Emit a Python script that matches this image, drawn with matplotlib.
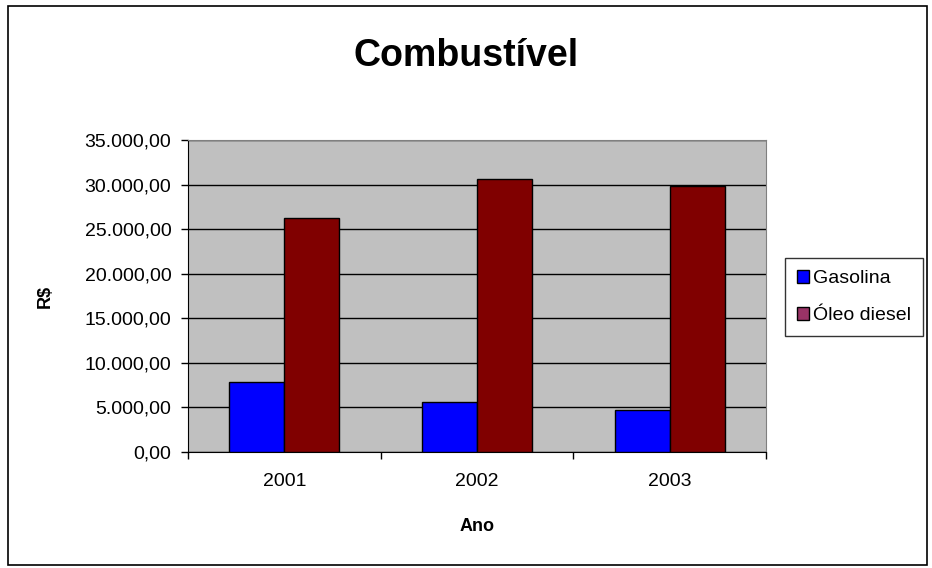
import matplotlib
matplotlib.use("Agg")
import matplotlib.pyplot as plt
import numpy as np
from matplotlib.patches import Patch, Rectangle
from matplotlib.ticker import FuncFormatter

plt.rcParams['font.family'] = ['Liberation Sans', 'DejaVu Sans']

# data
anos = ['2001', '2002', '2003']
gasolina = [7850, 5560, 4690]
oleo_diesel = [26250, 30680, 29850]
series_names = ['Gasolina', 'Óleo diesel']
y_ticks = [0, 5000, 10000, 15000, 20000, 25000, 30000, 35000]


def br_fmt(v, pos):
    s = f"{v:,.2f}"
    return s.replace(",", "X").replace(".", ",").replace("X", ".")


fig = plt.figure(figsize=(9.32, 5.68), dpi=100)
fig.patch.set_facecolor('white')

# outer chart border
fig.add_artist(Rectangle((8 / 932, 3 / 568), 919 / 932, 559 / 568,
                         transform=fig.transFigure, fill=False,
                         edgecolor='black', linewidth=1.2))

ax = fig.add_axes([188 / 932, 116 / 568, 578 / 932, 312 / 568])
ax.set_facecolor('#C0C0C0')

x = np.arange(len(anos))
w = 1 / 3.5
ax.bar(x - w / 2, gasolina, w, color='#0000FF', edgecolor='black', linewidth=1, zorder=3)
ax.bar(x + w / 2, oleo_diesel, w, color='#800000', edgecolor='black', linewidth=1, zorder=3)

ax.set_xlim(-0.5, len(anos) - 0.5)
ax.set_ylim(0, 35000)
ax.set_yticks(y_ticks)
ax.yaxis.set_major_formatter(FuncFormatter(br_fmt))
ax.yaxis.grid(True, color='black', linewidth=1, zorder=1)
ax.set_axisbelow(True)

ax.set_xticks(x)
ax.set_xticklabels(anos)
ax.set_xticks(np.arange(-0.5, len(anos)), minor=True)
ax.tick_params(axis='x', which='major', length=0, labelsize=14, pad=15)
ax.tick_params(axis='x', which='minor', length=5, width=1, direction='out')
ax.tick_params(axis='y', length=5, width=1, direction='out', labelsize=14, pad=7)

for side in ['top', 'right']:
    ax.spines[side].set_color('#808080')
for side in ['left', 'bottom']:
    ax.spines[side].set_color('black')

ax.set_xlabel('Ano', fontsize=13, fontweight='bold', labelpad=20)
ax.set_ylabel('R$', fontsize=13, fontweight='bold', labelpad=22)

fig.text(466 / 932, 1 - 56 / 568, 'Combustível', fontsize=27, fontweight='bold',
         ha='center', va='center')

handles = [Patch(facecolor='#0000FF', edgecolor='black'),
           Patch(facecolor='#993366', edgecolor='black')]
leg = fig.legend(handles, series_names, loc='center left',
                 bbox_to_anchor=(785 / 932, 1 - 297 / 568), fontsize=14,
                 frameon=True, fancybox=False, edgecolor='black',
                 handlelength=0.65, handleheight=0.65, handletextpad=0.2,
                 borderpad=0.6, labelspacing=1.0, borderaxespad=0)
leg.get_frame().set_linewidth(1)

fig.savefig('out.png', dpi=100)
